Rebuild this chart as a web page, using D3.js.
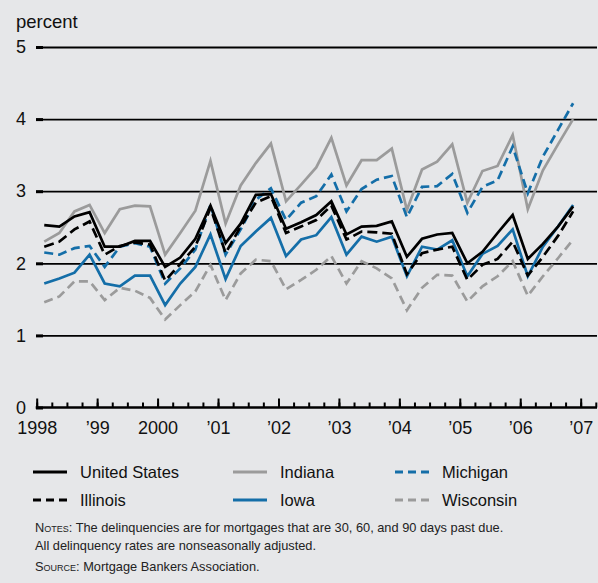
<!DOCTYPE html>
<meta charset="utf-8">
<script src="https://d3js.org/d3.v7.min.js"></script>
<style>
  body { margin: 0; background: #e6e7e9; }
  svg { font-family: "Liberation Sans", Arial, sans-serif; display: block; }
</style>
<div id="chart"></div>
<script>
// quarterly delinquency rates, 1998:Q1 - 2006:Q4 (percent)
const unitedStates = [2.53, 2.51, 2.65, 2.71, 2.23, 2.23, 2.31, 2.31, 1.95, 2.08, 2.34, 2.80, 2.28, 2.55, 2.95, 2.96, 2.48, 2.57, 2.67, 2.86, 2.40, 2.51, 2.52, 2.58, 2.09, 2.34, 2.40, 2.42, 2.00, 2.16, 2.42, 2.67, 2.06, 2.27, 2.51, 2.79];
const illinois     = [2.23, 2.30, 2.47, 2.58, 2.12, 2.24, 2.29, 2.26, 1.76, 1.99, 2.23, 2.77, 2.14, 2.51, 2.84, 2.93, 2.42, 2.51, 2.60, 2.80, 2.33, 2.44, 2.43, 2.41, 1.85, 2.14, 2.19, 2.23, 1.77, 1.98, 2.06, 2.30, 1.83, 2.09, 2.38, 2.72];
const indiana      = [2.30, 2.42, 2.72, 2.81, 2.42, 2.75, 2.80, 2.79, 2.12, 2.42, 2.73, 3.42, 2.55, 3.08, 3.39, 3.66, 2.86, 3.09, 3.33, 3.74, 3.08, 3.43, 3.43, 3.59, 2.74, 3.30, 3.41, 3.65, 2.84, 3.28, 3.35, 3.78, 2.75, 3.29, 3.65, 4.00];
const iowa         = [1.72, 1.79, 1.87, 2.12, 1.72, 1.68, 1.83, 1.83, 1.42, 1.72, 1.95, 2.40, 1.78, 2.24, 2.44, 2.63, 2.10, 2.33, 2.39, 2.64, 2.12, 2.37, 2.30, 2.37, 1.82, 2.23, 2.19, 2.32, 1.82, 2.13, 2.24, 2.47, 1.82, 2.23, 2.51, 2.81];
const michigan     = [2.15, 2.12, 2.21, 2.24, 1.95, 2.23, 2.28, 2.23, 1.72, 1.93, 2.19, 2.81, 2.12, 2.47, 2.88, 3.04, 2.60, 2.84, 2.93, 3.23, 2.72, 3.03, 3.16, 3.21, 2.64, 3.06, 3.07, 3.24, 2.70, 3.06, 3.15, 3.62, 2.97, 3.48, 3.85, 4.22];
const wisconsin    = [1.46, 1.54, 1.75, 1.75, 1.49, 1.66, 1.62, 1.52, 1.22, 1.42, 1.61, 1.98, 1.49, 1.86, 2.05, 2.03, 1.64, 1.77, 1.91, 2.10, 1.72, 2.03, 1.93, 1.79, 1.35, 1.66, 1.84, 1.83, 1.47, 1.68, 1.82, 2.03, 1.55, 1.82, 2.07, 2.33];

const years = [1998, 1999, 2000, 2001, 2002, 2003, 2004, 2005, 2006, 2007];
const yearLabels = ["1998", "\u201999", "2000", "\u201901", "\u201902", "\u201903", "\u201904", "\u201905", "\u201906", "\u201907"];
const yTicks = [0, 1, 2, 3, 4, 5];

const blue = "#146ea8", grey = "#9b9b9b";
const series = [
  {name: "United States", values: unitedStates, color: "#000", dash: null},
  {name: "Illinois", values: illinois, color: "#000", dash: "10,5"},
  {name: "Indiana", values: indiana, color: grey, dash: null},
  {name: "Iowa", values: iowa, color: blue, dash: null},
  {name: "Michigan", values: michigan, color: blue, dash: "9,5"},
  {name: "Wisconsin", values: wisconsin, color: grey, dash: "9,5"}
];
// drawing order: greys behind, blacks on top
const drawOrder = ["Indiana", "Wisconsin", "Michigan", "Iowa", "Illinois", "United States"];

const W = 598, H = 583;
const svg = d3.select("#chart").append("svg")
  .attr("width", W).attr("height", H);

const x = d3.scaleLinear().domain([1998, 2007.27]).range([36.7, 597]);
const y = d3.scaleLinear().domain([0, 5]).range([407.5, 47]);

// gridlines
svg.append("g")
  .attr("transform", "translate(36,0)")
  .call(d3.axisLeft(y).tickValues(yTicks.slice(1)).tickSize(-(597 - 36)).tickFormat(""))
  .call(g => g.select(".domain").remove())
  .call(g => g.selectAll("line").attr("stroke", "#000").attr("stroke-width", 1.8));

// y tick labels + short thick ticks
svg.append("g")
  .attr("transform", "translate(43,0)")
  .call(d3.axisLeft(y).tickValues(yTicks).tickSize(7).tickPadding(10).tickFormat(d3.format("d")))
  .call(g => g.select(".domain").remove())
  .call(g => g.selectAll("line").attr("stroke", "#000").attr("stroke-width", 3))
  .call(g => g.selectAll("text").attr("font-size", 18).attr("fill", "#111")
    .attr("font-family", "Liberation Sans, Arial, sans-serif"));

svg.append("text")
  .attr("x", 16).attr("y", 28)
  .attr("font-size", 18.5).attr("fill", "#111")
  .text("percent");

// x axis: minor quarter ticks
const quarters = d3.range(1998, 2007.26, 0.25);
svg.append("g")
  .attr("transform", `translate(0,${y(0)})`)
  .call(d3.axisBottom(x).tickValues(quarters).tickSize(-5).tickFormat(""))
  .call(g => g.select(".domain").remove())
  .call(g => g.selectAll("line").attr("stroke", "#000").attr("stroke-width", 2));

// x axis: major year ticks and labels
svg.append("g")
  .attr("transform", `translate(0,${y(0)})`)
  .call(d3.axisBottom(x).tickValues(years).tickSize(-9).tickSizeOuter(0).tickPadding(14)
    .tickFormat((d, i) => yearLabels[i]))
  .call(g => g.select(".domain").attr("stroke", "#000").attr("stroke-width", 2.5)
    .attr("d", `M${x.range()[0] - 1},0H${x.range()[1]}`))
  .call(g => g.selectAll("line").attr("stroke", "#000").attr("stroke-width", 2))
  .call(g => g.selectAll("text").attr("font-size", 18).attr("fill", "#111")
    .attr("font-family", "Liberation Sans, Arial, sans-serif"));

// lines
const line = d3.line()
  .x((d, i) => x(1998 + i / 4 + 0.125))
  .y(d => y(d));

svg.append("g").selectAll("path")
  .data(drawOrder.map(n => series.find(s => s.name === n)))
  .join("path")
  .attr("d", d => line(d.values))
  .attr("fill", "none")
  .attr("stroke", d => d.color)
  .attr("stroke-width", 2.7)
  .attr("stroke-linejoin", "miter")
  .attr("stroke-dasharray", d => d.dash);

// legend
const legendCols = [33, 233, 395];
const legendRows = [472, 500];
const legendItems = svg.append("g").selectAll("g")
  .data(series)
  .join("g")
  .attr("transform", (d, i) => `translate(${legendCols[Math.floor(i / 2)]},${legendRows[i % 2]})`);

legendItems.append("line")
  .attr("x1", 0).attr("x2", 34)
  .attr("stroke", d => d.color)
  .attr("stroke-width", 2.8)
  .attr("stroke-dasharray", d => d.dash ? "8,5" : null);

legendItems.append("text")
  .attr("x", 47)
  .attr("y", 6)
  .attr("font-size", 16.5).attr("fill", "#111")
  .text(d => d.name);

// notes
const notes = svg.append("g").attr("font-size", 12.8).attr("fill", "#222");
const n1 = notes.append("text").attr("x", 35).attr("y", 532);
n1.append("tspan").style("font-variant", "small-caps").text("Notes");
n1.append("tspan").text(": The delinquencies are for mortgages that are 30, 60, and 90 days past due.");
notes.append("text").attr("x", 35).attr("y", 550)
  .text("All delinquency rates are nonseasonally adjusted.");
const n3 = notes.append("text").attr("x", 35).attr("y", 571);
n3.append("tspan").style("font-variant", "small-caps").text("Source");
n3.append("tspan").text(": Mortgage Bankers Association.");
</script>
